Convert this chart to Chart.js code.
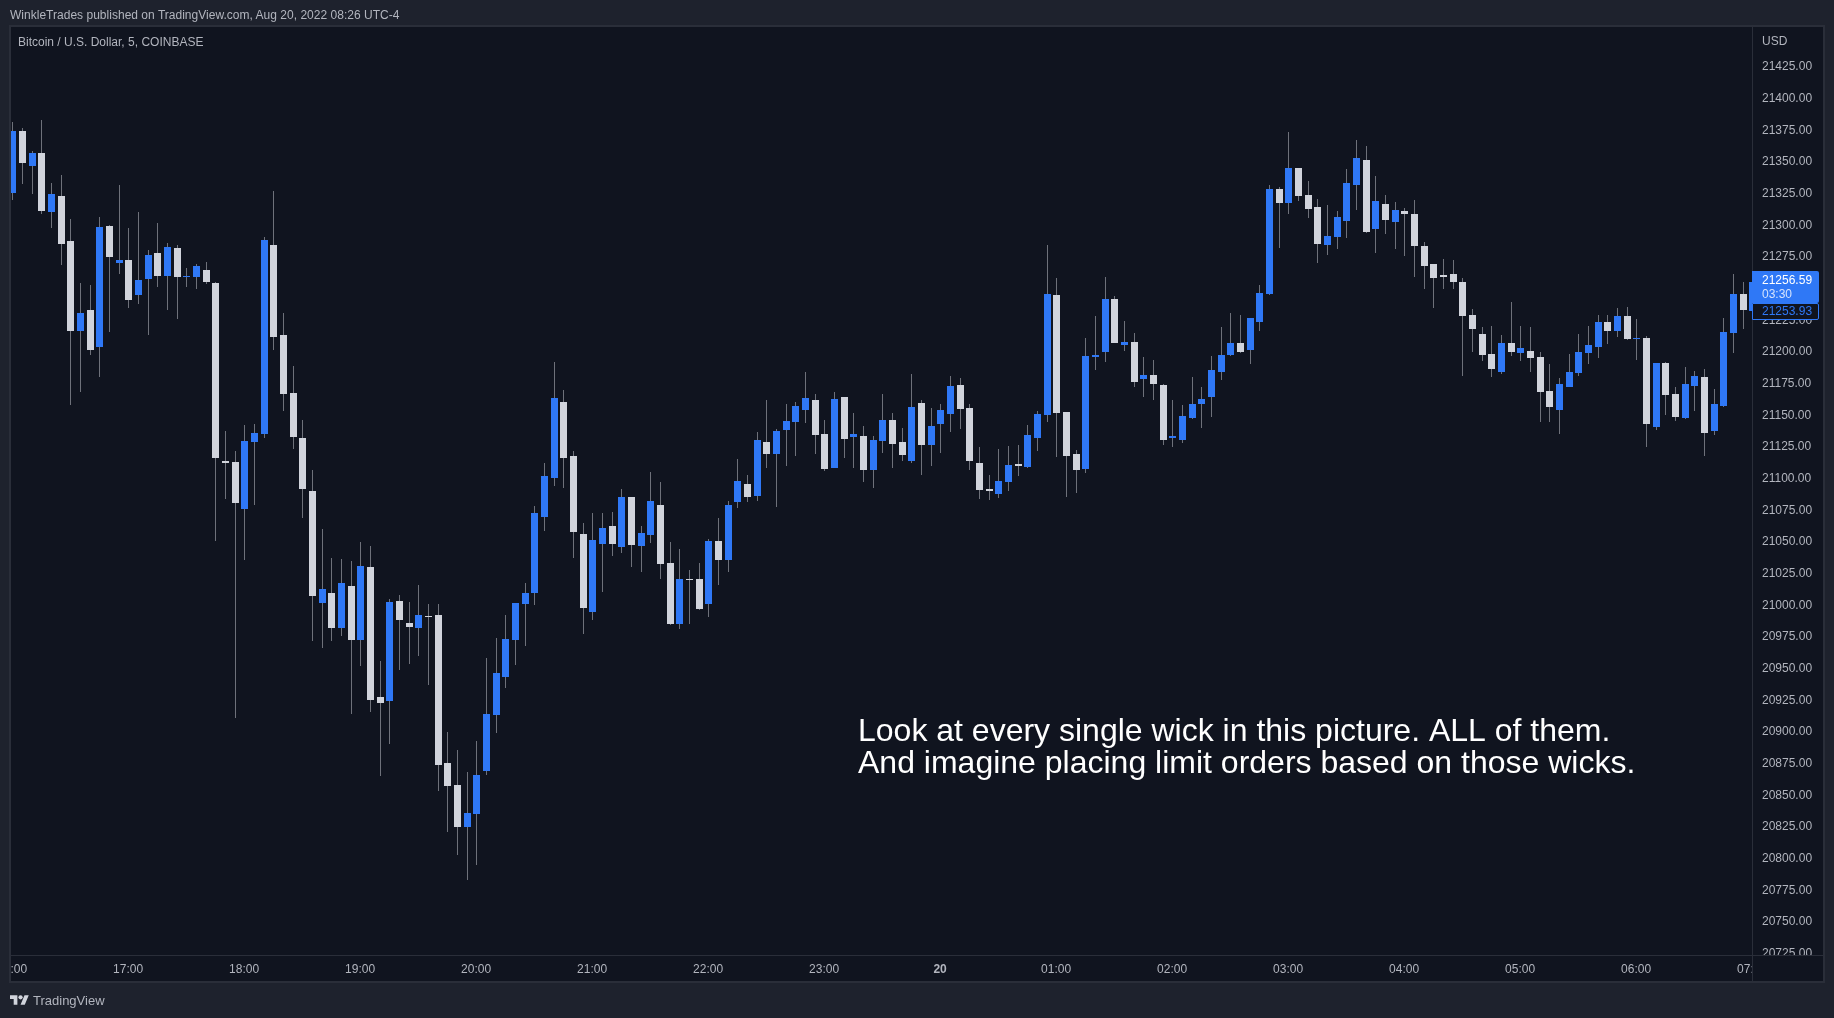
<!DOCTYPE html>
<html>
<head>
<meta charset="utf-8">
<title>Bitcoin / U.S. Dollar, 5, COINBASE</title>
<script src="https://cdn.jsdelivr.net/npm/chart.js@4/dist/chart.umd.js"></script>
<style>
html,body{margin:0;padding:0;width:1834px;height:1018px;overflow:hidden;background:#1e222d;font-family:"Liberation Sans",Arial,sans-serif}
#wrap{position:relative;width:1834px;height:1018px}
canvas{position:absolute;left:0;top:0}
.t{position:absolute;white-space:nowrap;font-size:12px;line-height:14px;color:#b2b5be}
#note{position:absolute;left:858px;top:714px;font-size:32px;line-height:32px;color:#fff;white-space:nowrap;font-kerning:none}
#last{position:absolute;left:1752px;top:271px;width:67px;height:32px;background:#2f78f6;border-radius:0 2px 2px 0}
#pre{position:absolute;left:1752px;top:303px;width:65px;height:15px;background:#10141f;border:1px solid #2f78f6;border-radius:0 2px 2px 0}
</style>
</head>
<body>
<div id="wrap">
<canvas id="c" width="1834" height="1018"></canvas>
<div class="t" style="left:10px;top:8px;letter-spacing:.018px">WinkleTrades published on TradingView.com, Aug 20, 2022 08:26 UTC-4</div>
<div class="t" style="left:18px;top:35px">Bitcoin / U.S. Dollar, 5, COINBASE</div>
<div class="t" style="left:1762px;top:34px">USD</div>
<div id="last"></div>
<div id="pre"></div>
<div class="t" style="left:1762px;top:273px;color:#fff">21256.59</div>
<div class="t" style="left:1762px;top:287px;color:#d5e3fd">03:30</div>
<div class="t" style="left:1762px;top:304px;color:#2f78f6">21253.93</div>
<div id="note">Look at every single wick in this picture. ALL of them.<br>And imagine placing limit orders based on those wicks.</div>
<svg style="position:absolute;left:10px;top:995px" width="19" height="10" viewBox="0 4 36 18"><path fill="#d1d4dc" d="M14 22H7V11H0V4h14v18zM28 22h-8l7.5-18h8L28 22z"/><circle fill="#d1d4dc" cx="20" cy="8" r="4"/></svg>
<div class="t" style="left:33px;top:994px;font-size:13px;color:#b2b5be">TradingView</div>
</div>
<script>
const openPrices = [
21324.3,21373.3,21345.6,21355.9,21309.5,21322.1,21286.6,21215.4,21232.2,21202.9,
21298.2,21269.2,21271.5,21243.8,21256.4,21277.0,21258.9,21280.8,21258.0,21258.0,
21263.8,21253.5,21113.0,21112.0,21074.9,21127.8,21134.2,21283.4,21212.2,21166.5,
21131.0,21089.1,21000.8,21008.6,20980.9,21014.1,20971.5,21029.2,20926.4,20923.5,
21002.5,20984.9,20981.0,20990.4,20991.3,20874.4,20857.0,20824.0,20834.3,20868.1,
20912.4,20942.2,20971.6,20999.9,21008.7,21068.5,21099.5,21159.3,21116.7,21055.2,
20993.8,21047.2,21061.6,21045.0,21084.3,21045.8,21054.4,21078.2,21032.2,20984.1,
21019.8,21019.8,20999.9,21049.7,21034.7,21080.4,21094.5,21085.1,21127.8,21118.3,
21137.2,21143.5,21153.0,21161.0,21134.1,21107.3,21163.3,21131.8,21132.5,21105.7,
21128.6,21145.2,21127.8,21112.8,21158.6,21125.4,21142.0,21149.9,21172.8,21154.6,
21111.2,21090.7,21086.8,21096.2,21110.4,21108.1,21131.0,21149.1,21243.8,21151.5,
21118.3,21106.5,21194.9,21198.9,21240.7,21204.4,21206.8,21177.5,21180.7,21172.8,
21131.0,21129.4,21146.8,21157.8,21163.3,21183.1,21196.5,21205.9,21200.5,21222.6,
21244.6,21327.5,21316.5,21344.1,21322.8,21313.3,21283.3,21289.6,21302.3,21330.7,
21350.4,21296.0,21315.7,21301.5,21310.2,21307.8,21282.5,21268.3,21259.6,21260.4,
21254.1,21228.1,21213.1,21197.3,21183.1,21206.0,21198.1,21199.6,21194.9,21168.1,
21153.0,21171.2,21182.3,21198.1,21202.8,21222.5,21215.4,21227.3,21209.1,21209.9,
21139.6,21190.2,21165.7,21146.8,21172.0,21179.1,21136.5,21156.2,21213.8,21244.6,
21231.2];
const highPrices = [
21380.4,21375.6,21357.5,21382.0,21332.4,21338.5,21303.7,21253.5,21251.8,21305.3,
21299.2,21330.8,21296.6,21309.5,21279.6,21300.8,21285.0,21283.4,21265.0,21268.3,
21269.9,21254.1,21136.5,21120.7,21141.3,21142.0,21289.5,21325.9,21229.6,21187.7,
21145.2,21105.9,21059.2,21036.3,21035.3,21034.0,21048.9,21045.6,20955.1,21003.8,
21007.0,21001.5,21015.1,20999.9,20999.9,20898.8,20884.7,20867.2,20891.9,20957.2,
20973.0,20991.3,21000.7,21016.5,21077.4,21111.2,21190.9,21168.7,21120.8,21063.8,
21071.8,21071.8,21072.7,21090.7,21084.3,21061.6,21104.2,21096.2,21048.9,21043.3,
21026.7,21032.2,21051.3,21068.0,21081.2,21114.5,21101.7,21135.8,21161.0,21138.0,
21157.9,21159.3,21183.1,21165.7,21145.2,21167.3,21163.3,21150.7,21140.4,21132.5,
21165.7,21150.7,21138.9,21181.5,21161.0,21154.6,21157.8,21179.9,21178.3,21157.8,
21123.9,21101.8,21122.3,21124.7,21125.4,21141.2,21152.3,21283.3,21257.3,21151.5,
21121.5,21209.9,21227.3,21258.0,21243.1,21223.3,21213.8,21194.9,21192.5,21173.6,
21161.0,21157.0,21179.1,21171.2,21195.7,21218.6,21229.6,21228.1,21225.7,21251.7,
21330.7,21329.1,21372.5,21344.1,21333.8,21319.6,21314.9,21310.2,21343.3,21366.2,
21361.5,21337.8,21322.8,21317.3,21312.5,21318.8,21285.7,21268.3,21272.3,21271.5,
21257.3,21232.8,21218.6,21219.4,21212.3,21238.3,21219.4,21218.6,21198.9,21189.4,
21178.3,21197.3,21213.0,21219.4,21228.1,21228.1,21233.6,21234.4,21224.9,21211.5,
21190.2,21191.0,21171.2,21187.0,21183.9,21185.4,21169.7,21225.7,21260.4,21254.1,
21258.0];
const lowPrices = [
21318.9,21331.4,21323.7,21307.9,21296.6,21267.6,21157.1,21167.4,21196.4,21179.0,
21214.8,21260.5,21233.5,21236.7,21212.2,21250.2,21232.2,21224.8,21250.2,21248.6,
21252.5,21049.8,21082.7,20910.0,21034.7,21078.2,21131.0,21200.6,21152.3,21122.3,
21067.9,20970.9,20965.1,20970.9,20974.8,20913.2,20950.9,20914.8,20864.2,20889.5,
20948.0,20952.5,20958.9,20935.9,20852.3,20819.9,20801.9,20782.2,20793.9,20865.0,
20898.2,20933.7,20951.7,20966.9,20999.3,21057.4,21093.2,21091.5,21036.4,20976.3,
20987.4,21009.5,21037.8,21040.3,21029.2,21025.3,21048.0,21019.8,20983.2,20980.2,
20984.1,20995.1,20989.6,21015.1,21025.3,21075.7,21080.4,21081.2,21107.3,21076.5,
21108.9,21116.7,21142.7,21118.3,21104.9,21107.3,21115.2,21107.3,21096.2,21091.5,
21119.1,21107.3,21112.8,21111.2,21101.8,21108.9,21119.1,21135.7,21138.1,21105.7,
21082.8,21082.0,21083.6,21089.1,21101.0,21107.3,21120.7,21143.6,21116.0,21084.4,
21087.6,21103.3,21184.6,21190.9,21206.0,21199.6,21171.2,21163.3,21161.0,21125.4,
21123.9,21127.0,21146.0,21138.9,21147.6,21176.8,21195.7,21198.1,21189.4,21215.4,
21243.8,21281.0,21307.8,21318.0,21304.6,21269.1,21275.4,21280.2,21288.8,21310.9,
21292.8,21277.0,21292.0,21280.2,21274.6,21258.0,21248.6,21233.6,21248.6,21248.6,
21179.9,21198.9,21191.7,21179.1,21181.5,21195.7,21191.7,21183.1,21143.6,21143.6,
21134.1,21171.2,21179.9,21189.4,21194.1,21205.2,21210.7,21208.3,21192.5,21123.9,
21137.3,21149.1,21144.4,21146.0,21152.3,21116.8,21133.3,21155.4,21198.1,21217.0,
21228.0];
const closePrices = [
21373.3,21348.2,21355.9,21310.2,21323.7,21284.1,21215.4,21229.6,21200.6,21297.6,
21273.8,21271.5,21239.9,21255.7,21275.4,21258.9,21281.8,21258.0,21258.9,21266.7,
21254.1,21115.2,21111.4,21079.8,21128.8,21134.9,21287.3,21210.6,21165.8,21131.7,
21090.7,21006.3,21011.8,20980.9,21016.6,20971.5,21029.8,20924.2,20921.9,21001.5,
20987.3,20981.9,20991.3,20989.6,20872.8,20856.2,20824.0,20835.1,20865.0,20913.2,
20945.6,20972.4,21000.7,21008.7,21071.8,21100.9,21162.6,21115.3,21056.9,20996.8,
21050.5,21059.9,21047.2,21084.3,21046.6,21056.1,21081.2,21031.4,20984.1,21019.8,
21019.0,20995.9,21049.7,21034.7,21078.2,21097.0,21084.3,21129.4,21118.3,21136.6,
21144.4,21156.3,21162.6,21133.3,21106.5,21161.7,21130.2,21134.1,21105.7,21129.4,
21145.2,21126.2,21117.5,21155.4,21125.4,21140.4,21153.0,21172.0,21153.9,21112.8,
21089.9,21089.1,21097.0,21109.6,21108.9,21133.3,21149.9,21244.6,21150.7,21116.8,
21105.7,21195.7,21196.5,21240.7,21206.0,21206.8,21175.1,21180.7,21173.6,21129.4,
21132.5,21148.3,21157.8,21161.8,21184.6,21196.5,21205.9,21198.9,21225.7,21245.4,
21327.5,21316.5,21344.1,21322.0,21311.7,21284.1,21290.4,21305.4,21332.2,21352.0,
21293.6,21318.0,21303.0,21311.0,21307.8,21282.5,21266.7,21257.3,21258.1,21254.1,
21227.3,21217.0,21196.5,21185.4,21206.0,21198.9,21202.0,21194.1,21167.3,21155.4,
21173.6,21183.1,21198.9,21204.4,21222.5,21215.4,21227.3,21209.1,21209.9,21142.0,
21190.2,21164.9,21147.5,21173.6,21179.9,21134.9,21157.8,21214.6,21244.6,21232.0,
21253.93];
const timeLabels = ['16:00','17:00','18:00','19:00','20:00','21:00','22:00','23:00','20','01:00','02:00','03:00','04:00','05:00','06:00','07:00'];
const barsPerLabel = 12;
const priceTicks = [21425,21400,21375,21350,21325,21300,21275,21250,21225,21200,21175,21150,21125,21100,21075,21050,21025,21000,20975,20950,20925,20900,20875,20850,20825,20800,20775,20750,20725];

const UP = '#2f78f6', DOWN = '#d1d4dc', WICK = '#6e717a';
const PANE = '#10141f', PAGE = '#1e222d', LINE = '#2a2e39', TXT = '#b2b5be';
const FONT = '"Liberation Sans", Arial, sans-serif';

const snapBars = {
  id: 'snapBars',
  beforeDraw(chart) {
    const a = chart.chartArea, c = chart.ctx;
    c.fillStyle = PANE;
    c.fillRect(a.left, a.top, chart.width - a.left - 11, chart.height - a.top - 37);
  },
  beforeDatasetsDraw(chart) {
    const a = chart.chartArea, c = chart.ctx;
    c.fillStyle = PAGE;
    c.fillRect(0, a.top, a.left, chart.height - a.top - 37);
    c.fillStyle = PANE;
    c.fillRect(a.right, a.top, chart.width - 11 - a.right, chart.height - a.top - 37);
    chart.data.datasets.forEach((d, k) => {
      chart.getDatasetMeta(k).data.forEach(el => {
        el.x = Math.floor(el.x) + 0.5;
        el.y = Math.round(el.y);
        el.base = Math.round(el.base);
        if (el.base === el.y) el.base = el.y + 1;
        el.height = el.base - el.y;
      });
    });
  },
  afterDraw(chart) {
    const a = chart.chartArea, c = chart.ctx;
    const R = chart.width - 11, B = chart.height - 37;
    c.fillStyle = PANE;
    c.fillRect(a.right, a.bottom, R - a.right, B - a.bottom);
    c.fillStyle = LINE;
    c.fillRect(a.left - 2, a.top - 2, R - a.left + 4, 2);
    c.fillRect(a.left - 2, B, R - a.left + 4, 2);
    c.fillRect(a.left - 2, a.top - 2, 2, B - a.top + 4);
    c.fillRect(R, a.top - 2, 2, B - a.top + 4);
    c.fillRect(a.left, a.bottom, R - a.left, 1);
    c.fillRect(a.right, a.top, 1, B - a.top);
  }
};

new Chart(document.getElementById('c'), {
  type: 'bar',
  data: {
    datasets: [
      {
        label: 'Body', order: 1, grouped: false, barThickness: 7, inflateAmount: 0, borderWidth: 0,
        backgroundColor: ctx => closePrices[ctx.dataIndex] >= openPrices[ctx.dataIndex] ? UP : DOWN,
        data: openPrices.map((o, i) => ({ x: i, y: [o, closePrices[i]] }))
      },
      {
        label: 'Wick', order: 2, grouped: false, barThickness: 1, inflateAmount: 0, borderWidth: 0,
        backgroundColor: WICK,
        data: lowPrices.map((l, i) => ({ x: i, y: [l, highPrices[i]] }))
      }
    ]
  },
  options: {
    responsive: false, animation: false, devicePixelRatio: 1,
    layout: { autoPadding: false, padding: { left: 11, top: 27, right: 11, bottom: 37 } },
    plugins: { legend: { display: false }, tooltip: { enabled: false }, title: { display: false } },
    scales: {
      x: {
        type: 'linear', min: -0.1728, max: 179.93, offset: false,
        grid: { display: false, drawTicks: false }, border: { display: false },
        afterBuildTicks: s => { s.ticks = timeLabels.map((_, k) => ({ value: k * barsPerLabel })); },
        afterFit: s => { s.height = 26; s.paddingLeft = 0; s.paddingRight = 0; },
        ticks: {
          autoSkip: false, maxRotation: 0, minRotation: 0, padding: 7, labelOffset: -0.6, color: TXT, z: 0,
          font: ctx => ({ family: FONT, size: 12, weight: ctx.tick && timeLabels[ctx.tick.value / barsPerLabel] === '20' ? 'bold' : 'normal' }),
          callback: v => timeLabels[v / barsPerLabel]
        }
      },
      y: {
        position: 'right', type: 'linear', min: 20722.7, max: 21455.4,
        grid: { display: false, drawTicks: false }, border: { display: false },
        afterBuildTicks: s => { s.ticks = priceTicks.map(v => ({ value: v })); },
        afterFit: s => { s.width = 71; s.paddingTop = 0; s.paddingBottom = 0; },
        ticks: {
          autoSkip: false, padding: 10, labelOffset: 1.5, color: TXT, z: 1, align: 'center', crossAlign: 'near',
          font: { family: FONT, size: 12 },
          callback: v => v.toFixed(2)
        }
      }
    }
  },
  plugins: [snapBars]
});
</script>
</body>
</html>
